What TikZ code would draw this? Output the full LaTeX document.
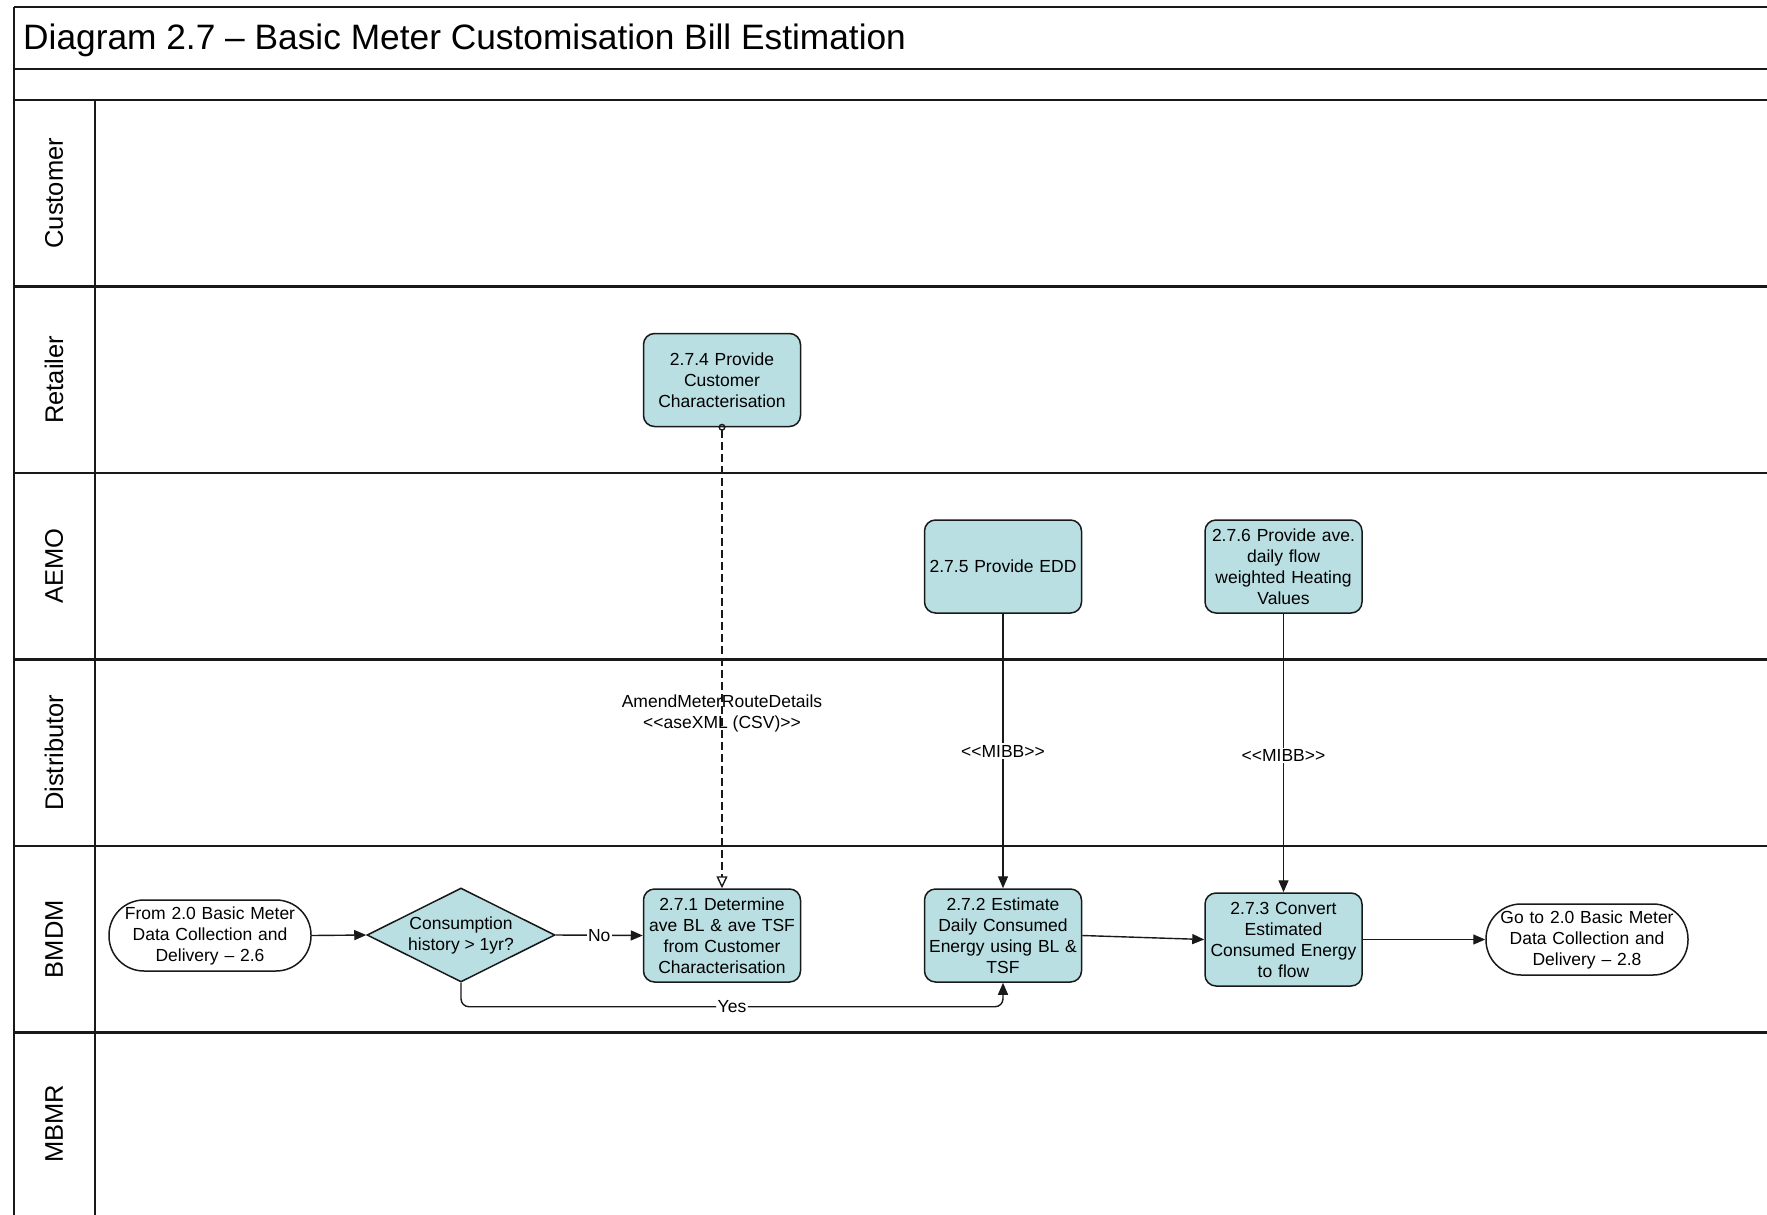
\documentclass[tikz,border=0pt]{standalone}
\usepackage{fontspec}
\setmainfont{Liberation Sans}
\usetikzlibrary{arrows.meta,shapes.geometric}

\definecolor{procfill}{RGB}{185,223,227}
\definecolor{inkline}{RGB}{25,25,25}

\newcommand\boxfont{\fontsize{17.5}{21}\selectfont}
\newcommand\lanefont{\fontsize{25.5}{30}\selectfont}
\newcommand\titlefont{\fontsize{35.3}{42}\selectfont}

\tikzset{
  process/.style={draw=inkline, line width=1.5pt, fill=procfill, rounded corners=11pt,
    minimum width=157pt, minimum height=93pt, text width=155pt, align=center,
    inner sep=0pt, font=\boxfont},
  terminal/.style={draw=inkline, line width=1.5pt, fill=white, rounded corners=35pt,
    minimum width=202pt, minimum height=71pt, text width=200pt, align=center,
    inner sep=0pt, font=\boxfont},
  decision/.style={draw=inkline, line width=1.5pt, fill=procfill, diamond, aspect=2,
    minimum width=188pt, minimum height=94pt, inner sep=0pt, align=center, font=\boxfont},
  flow/.style={draw=inkline, line width=1.4pt, -{Triangle[length=12pt,width=10pt]}},
  msgflow/.style={draw=inkline, line width=1.4pt, dash pattern=on 8pt off 4pt,
    {Circle[open,length=7pt,width=7pt]}-{Triangle[open,length=12pt,width=11pt]},
    shorten <=-3.5pt},
  lanerule/.style={draw=inkline, line width=2.2pt},
  lanelabel/.style={rotate=90, font=\lanefont, inner sep=0pt},
  flowlabel/.style={font=\boxfont, fill=white, inner sep=1.5pt, align=center},
  msglabel/.style={font=\boxfont, inner sep=0pt, align=center},
}

\begin{document}
\begin{tikzpicture}[x=1pt, y=-1pt]
  \useasboundingbox (0,0) rectangle (1767,1215);

  % swimlane frame
  \foreach \yy in {7,69,100,286.5,473,659.5,846,1032.5}
    \draw[lanerule] (14,\yy) -- (1767,\yy);
  \draw[lanerule] (14,7) -- (14,1215);
  \draw[lanerule] (95,100) -- (95,1215);

  % title
  \node[anchor=west, font=\titlefont, inner sep=0pt] (title) at (23,40)
    {Diagram 2.7 -- Basic Meter Customisation Bill Estimation};

  % lane labels
  \node[lanelabel] (laneCustomer)    at (54,193.25) {Customer};
  \node[lanelabel] (laneRetailer)    at (54,379.75) {Retailer};
  \node[lanelabel] (laneAEMO)        at (54,566.25) {AEMO};
  \node[lanelabel] (laneDistributor) at (54,752.75) {Distributor};
  \node[lanelabel] (laneBMDM)        at (54,939.25) {BMDM};
  \node[lanelabel] (laneMBMR)        at (54,1124)   {MBMR};

  % process steps
  \node[process] (n274) at (722,380)    {2.7.4 Provide\\Customer\\Characterisation};
  \node[process] (n275) at (1003,566.5) {2.7.5 Provide EDD};
  \node[process] (n276) at (1283.5,566.5) {2.7.6 Provide ave.\\daily flow\\weighted Heating\\Values};
  \node[process] (n271) at (722,935.5)  {2.7.1 Determine\\ave BL \& ave TSF\\from Customer\\Characterisation};
  \node[process] (n272) at (1003,935.5) {2.7.2 Estimate\\Daily Consumed\\Energy using BL \&\\TSF};
  \node[process] (n273) at (1283.5,939.5) {2.7.3 Convert\\Estimated\\Consumed Energy\\to flow};

  % start / end connectors
  \node[terminal] (fromprev) at (210,935.5) {From 2.0 Basic Meter\\Data Collection and\\Delivery -- 2.6};
  \node[terminal] (gonext)   at (1587,939.5) {Go to 2.0 Basic Meter\\Data Collection and\\Delivery -- 2.8};

  % decision
  \node[decision] (hist) at (461,935) {Consumption\\history {>} 1yr?};

  % flows
  \draw[flow] (fromprev.east) -- (hist.west);
  \draw[flow] (hist.east) -- node[flowlabel] (lblNo) {No} (n271.west);
  \draw[flow, rounded corners=8pt] (hist.south) -- ++(0,24) -| node[flowlabel, pos=0.25] (lblYes) {Yes} (n272.south);
  \draw[flow] (n272.east) -- (n273.west);
  \draw[flow] (n273.east) -- (gonext.west);

  % messages between lanes
  \draw[msgflow] (n274.south) -- node[msglabel, pos=0.62] (lblAmend)
    {AmendMeterRouteDetails\\{<}{<}aseXML (CSV){>}{>}} (n271.north);
  \draw[flow] (n275.south) -- node[flowlabel, pos=0.5] (lblEDD) {{<}{<}MIBB{>}{>}} (n272.north);
  \draw[flow] (n276.south) -- node[flowlabel, pos=0.51] (lblHV) {{<}{<}MIBB{>}{>}} (n273.north);
\end{tikzpicture}
\end{document}
